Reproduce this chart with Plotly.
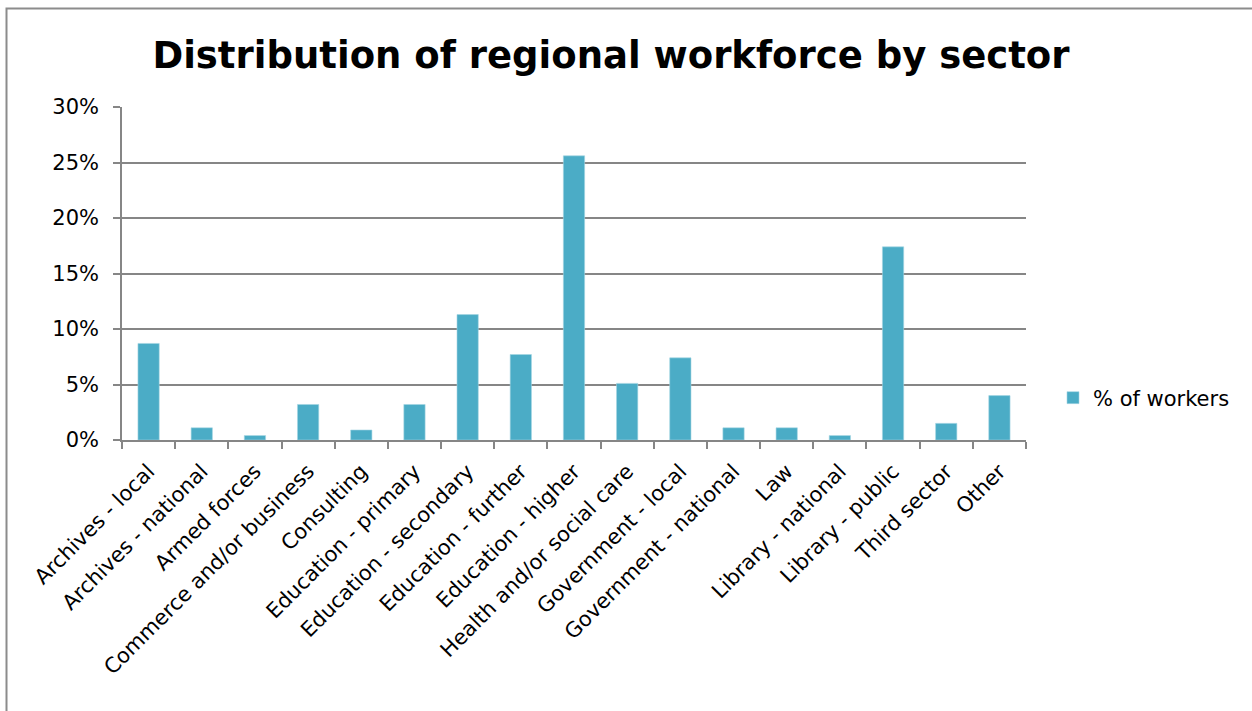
import plotly.graph_objects as go

categories = [
    "Archives - local", "Archives - national", "Armed forces",
    "Commerce and/or business", "Consulting", "Education - primary",
    "Education - secondary", "Education - further", "Education - higher",
    "Health and/or social care", "Government - local", "Government - national",
    "Law", "Library - national", "Library - public", "Third sector", "Other",
]
values = [8.7, 1.1, 0.4, 3.2, 0.9, 3.2, 11.3, 7.7, 25.6, 5.1, 7.4, 1.1, 1.1, 0.4, 17.4, 1.5, 4.0]
values_frac = [v / 100 for v in values]
series_name = "% of workers"
title_text = "Distribution of regional workforce by sector"

W, H = 1252, 711
L, R, T, B = 122, 226, 107, 271
pw, ph = W - L - R, H - T - B

def px_x(x):
    return (x - L) / pw

def px_y(y):
    return (H - B - y) / ph

grid = "#868686"
font = "DejaVu Sans, Verdana, sans-serif"

fig = go.Figure(go.Bar(
    x=categories, y=values_frac, name=series_name,
    marker=dict(color="#4BACC6", line=dict(color="#A5D5E3", width=0.6)),
    showlegend=True,
))

fig.update_layout(
    width=W, height=H,
    margin=dict(l=L, r=R, t=T, b=B, pad=0),
    paper_bgcolor="white", plot_bgcolor="white",
    bargap=0.6,
    font=dict(family=font, size=21, color="#000000"),
    title=dict(text="<b>" + title_text + "</b>", x=611 / W, xanchor="center",
               y=1 - 55 / H, yanchor="middle",
               font=dict(family=font, size=37, color="#000000")),
    showlegend=True,
    legend=dict(x=px_x(1053), xanchor="left", y=px_y(398), yanchor="middle",
                font=dict(family=font, size=21, color="#000000"),
                bgcolor="rgba(0,0,0,0)", itemwidth=30),
    xaxis=dict(
        type="category", tickangle=-45, showgrid=False,
        showline=True, linecolor=grid, linewidth=1.5,
        ticks="outside", tickson="boundaries", ticklen=7, tickcolor=grid, tickwidth=1.5,
        tickfont=dict(family=font, size=21, color="#000000"),
        ticklabelstandoff=9,
        range=[-0.5, len(categories) - 0.5],
    ),
    yaxis=dict(
        range=[0, 0.3], dtick=0.05, tickformat=".0%",
        showgrid=True, gridcolor=grid, gridwidth=1.5,
        showline=True, linecolor=grid, linewidth=1.5,
        ticks="outside", ticklen=7, tickcolor=grid, tickwidth=1.5,
        tickfont=dict(family=font, size=21, color="#000000"),
        ticklabelstandoff=10,
        zeroline=False,
    ),
    shapes=[dict(type="rect", xref="paper", yref="paper",
                 x0=px_x(6.5), x1=px_x(1262), y0=px_y(725), y1=px_y(8.5),
                 line=dict(color="#8c8c8c", width=2), fillcolor="rgba(0,0,0,0)",
                 layer="below")],
)

fig.write_html("out.html", config={"displayModeBar": False},
               post_script="document.body.style.margin='0';")
